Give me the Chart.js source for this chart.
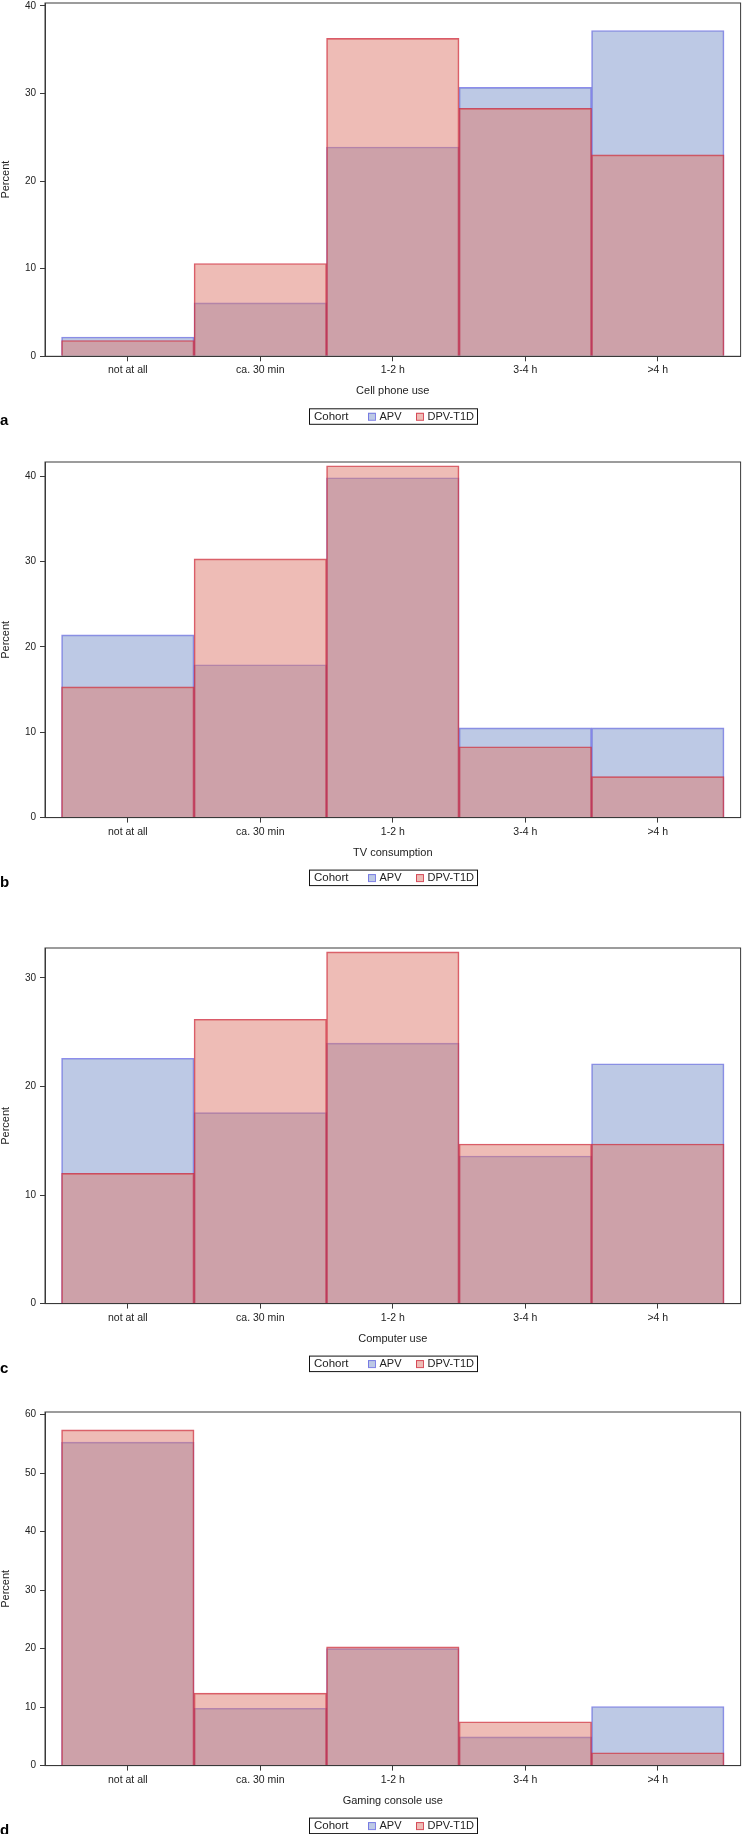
<!DOCTYPE html>
<html>
<head>
<meta charset="utf-8">
<script src="https://cdn.jsdelivr.net/npm/chart.js@4.4.1/dist/chart.umd.min.js"></script>
<style>
    body { margin: 0; background: #fff; width: 742px; height: 1834px; position: relative; overflow: hidden; }
    canvas { position: absolute; left: 0; }
</style>
</head>
<body>
<script>
// Categories and cohorts
const categories = ['not at all', 'ca. 30 min', '1-2 h', '3-4 h', '>4 h'];
const cohorts = ['APV', 'DPV-T1D'];

// Percent values
const cellPhoneAPV = [2.2, 6.1, 23.9, 30.7, 37.2];
const cellPhoneDPV = [1.8, 10.6, 36.3, 28.3, 23.0];
const tvAPV = [21.4, 17.9, 39.8, 10.5, 10.5];
const tvDPV = [15.3, 30.3, 41.2, 8.3, 4.8];
const computerAPV = [22.6, 17.6, 24.0, 13.6, 22.1];
const computerDPV = [12.0, 26.2, 32.4, 14.7, 14.7];
const gamingAPV = [55.3, 9.8, 20.0, 4.9, 10.1];
const gamingDPV = [57.4, 12.4, 20.3, 7.5, 2.2];

// Y tick labels
const ticks40 = [0, 10, 20, 30, 40];
const ticks30 = [0, 10, 20, 30];
const ticks60 = [0, 10, 20, 30, 40, 50, 60];

const FONT = '"Liberation Sans", Arial, sans-serif';
const INK = '#222';
const AXIS = '#3a3a3a';
const PAD_TOP = 10;
const apvStyle = { fill: 'rgba(123,147,203,0.5)', line: 'rgba(80,80,225,0.65)' };
const dpvStyle = { fill: 'rgba(221,121,109,0.5)', line: 'rgba(205,35,55,0.75)' };

const panels = [
    { letter: 'a', title: 'Cell phone use', apv: cellPhoneAPV, dpv: cellPhoneDPV, yTicks: ticks40, yMax: 40.34, top: 2.7, plotH: 353.3 },
    { letter: 'b', title: 'TV consumption', apv: tvAPV, dpv: tvDPV, yTicks: ticks40, yMax: 41.64, top: 461.7, plotH: 355.6 },
    { letter: 'c', title: 'Computer use', apv: computerAPV, dpv: computerDPV, yTicks: ticks30, yMax: 32.76, top: 947.7, plotH: 355.6 },
    { letter: 'd', title: 'Gaming console use', apv: gamingAPV, dpv: gamingDPV, yTicks: ticks60, yMax: 60.45, top: 1411.7, plotH: 353.6 }
];

// Box around the plot area
const framePlugin = {
    id: 'frame',
    afterDatasetsDraw(chart) {
        const { ctx, chartArea: a } = chart;
        ctx.save();
        ctx.strokeStyle = AXIS;
        ctx.lineWidth = 1;
        ctx.strokeRect(a.left, a.top, a.right - a.left, a.bottom - a.top);
        ctx.restore();
    }
};

// SAS-style boxed legend and the panel letter
const cohortLegendPlugin = {
    id: 'cohortLegend',
    afterDraw(chart, args, opts) {
        const { ctx, chartArea: a } = chart;
        const y0 = a.bottom + 52.5;
        ctx.save();
        ctx.strokeStyle = '#111';
        ctx.lineWidth = 1;
        ctx.fillStyle = '#fff';
        ctx.fillRect(309.5, y0, 168, 15.5);
        ctx.strokeRect(309.5, y0, 168, 15.5);
        ctx.font = '11.5px ' + FONT;
        ctx.fillStyle = INK;
        ctx.textBaseline = 'middle';
        ctx.textAlign = 'left';
        const cy = y0 + 8;
        ctx.fillText('Cohort', 314, cy);
        const itemX = [368, 416];
        ctx.font = '11px ' + FONT;
        chart.data.datasets.forEach((ds, i) => {
            const x = itemX[i];
            ctx.fillStyle = '#fff';
            ctx.fillRect(x, cy - 4, 7.5, 7.5);
            ctx.fillStyle = ds.backgroundColor;
            ctx.fillRect(x, cy - 4, 7.5, 7.5);
            ctx.strokeStyle = ds.borderColor;
            ctx.strokeRect(x + 0.5, cy - 3.5, 7, 7);
            ctx.fillStyle = INK;
            ctx.fillText(ds.label, x + 11.5, cy);
        });
        ctx.font = 'bold 15px ' + FONT;
        ctx.fillStyle = '#000';
        ctx.textBaseline = 'alphabetic';
        ctx.fillText(opts.letter, 0, a.bottom + 69);
        ctx.restore();
    }
};

panels.forEach(function(p) {
    var h = Math.round(PAD_TOP + p.plotH + 76);
    var canvas = document.createElement('canvas');
    canvas.width = 742;
    canvas.height = h;
    canvas.style.top = (p.top - PAD_TOP) + 'px';
    canvas.style.width = '742px';
    canvas.style.height = h + 'px';
    document.body.appendChild(canvas);

    new Chart(canvas.getContext('2d'), {
        type: 'bar',
        data: {
            datasets: [{
                label: cohorts[0],
                data: categories.map((c, i) => ({ x: i, y: p.apv[i] })),
                backgroundColor: apvStyle.fill,
                borderColor: apvStyle.line,
                borderWidth: 1,
                order: 1
            }, {
                label: cohorts[1],
                data: categories.map((c, i) => ({ x: i, y: p.dpv[i] })),
                backgroundColor: dpvStyle.fill,
                borderColor: dpvStyle.line,
                borderWidth: 1,
                order: 0
            }]
        },
        options: {
            responsive: false,
            animation: false,
            devicePixelRatio: 1,
            layout: { padding: { left: 0, right: 1.4, top: PAD_TOP, bottom: h - PAD_TOP - p.plotH - 68 } },
            datasets: { bar: { grouped: false, barPercentage: 1, categoryPercentage: 1 } },
            plugins: {
                legend: { display: false },
                tooltip: { enabled: false },
                cohortLegend: { letter: p.letter }
            },
            scales: {
                x: {
                    type: 'linear',
                    min: -0.625,
                    max: 4.625,
                    offset: false,
                    afterBuildTicks: s => { s.ticks = categories.map((c, i) => ({ value: i })); },
                    afterFit: s => { s.height = 68; s.paddingLeft = 0; s.paddingRight = 0; },
                    ticks: {
                        autoSkip: false,
                        maxRotation: 0,
                        padding: 3,
                        color: INK,
                        font: { family: FONT, size: 10.5 },
                        callback: (v, i) => categories[i]
                    },
                    grid: { offset: false, drawOnChartArea: false, drawTicks: true, tickLength: 5, tickColor: AXIS },
                    border: { display: true, color: AXIS, width: 1 },
                    title: {
                        display: true,
                        text: p.title,
                        color: INK,
                        font: { family: FONT, size: 11 },
                        padding: { top: 0, bottom: 26.4 }
                    }
                },
                y: {
                    min: 0,
                    max: p.yMax,
                    afterBuildTicks: s => { s.ticks = p.yTicks.map(v => ({ value: v })); },
                    afterFit: s => { s.width = 45; s.paddingTop = 0; s.paddingBottom = 0; },
                    ticks: {
                        padding: 4,
                        color: INK,
                        font: { family: FONT, size: 10 }
                    },
                    grid: { drawOnChartArea: false, drawTicks: true, tickLength: 5, tickColor: AXIS },
                    border: { display: true, color: AXIS, width: 1 },
                    title: {
                        display: true,
                        text: 'Percent',
                        color: INK,
                        font: { family: FONT, size: 11, lineHeight: 1 },
                        padding: { top: 0, bottom: 0 }
                    }
                }
            }
        },
        plugins: [framePlugin, cohortLegendPlugin]
    });
});
</script>
</body>
</html>
